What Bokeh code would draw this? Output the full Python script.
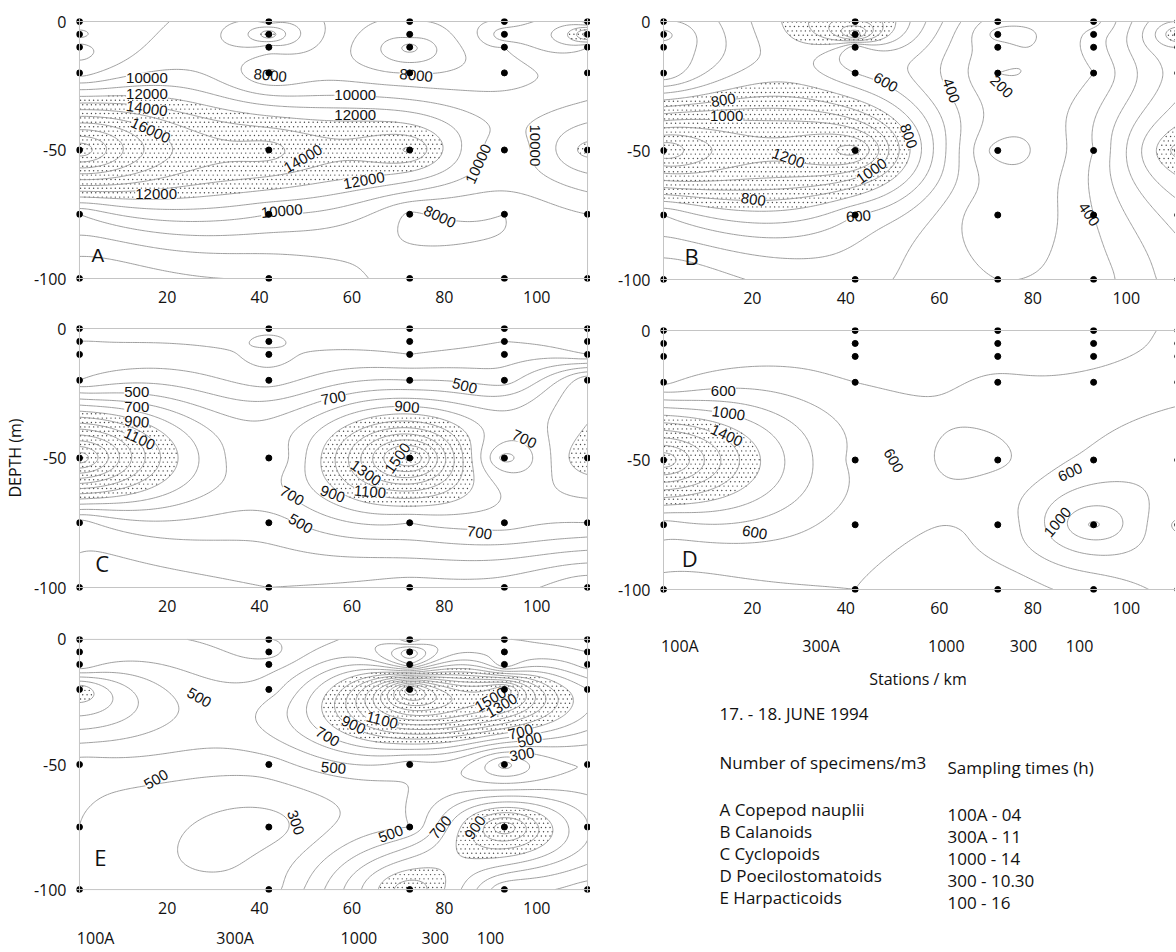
import numpy as np
from bokeh.plotting import figure
from bokeh.layouts import row, column
from bokeh.models import Range1d, FixedTicker, Span, Label, LinearAxis
from bokeh.core.properties import value
from bokeh.embed import file_html
from bokeh.resources import INLINE

# ---------------- data ----------------
STATIONS_KM = [1, 42, 72.5, 93, 111]
DEPTHS_M = [0, -5, -10, -20, -50, -75, -100]
STATION_NAMES = ["100A", "300A", "1000", "300", "100"]
STATION_NAME_KM = [4.5, 34.7, 61.5, 78, 90]
X_TICKS = [20, 40, 60, 80, 100]
Y_TICKS = [0, -50, -100]
Y_TICK_TEXT = ["0", "-50", "-100"]

# rows = depths (0,5,10,20,50,75,100 m), columns = stations
A_NAUPLII = [
    [8000, 9500, 8000, 9000, 9500],
    [9500, 13000, 7500, 11000, 15000],
    [7500, 9500, 5500, 9000, 10000],
    [8500, 7800, 8000, 8500, 9000],
    [20000, 14500, 14200, 9200, 12500],
    [9000, 10000, 7800, 8000, 9000],
    [6000, 7000, 8500, 8500, 8000],
]
B_CALANOIDS = [
    [500, 1000, 250, 250, 700],
    [350, 1300, 150, 350, 950],
    [450, 500, 250, 350, 700],
    [400, 600, 200, 300, 650],
    [1500, 1350, 150, 400, 950],
    [600, 600, 200, 400, 650],
    [300, 450, 300, 350, 550],
]
C_CYCLOPOIDS = [
    [300, 250, 200, 250, 250],
    [300, 350, 250, 300, 200],
    [350, 250, 300, 350, 300],
    [400, 350, 500, 450, 900],
    [1700, 600, 1650, 550, 1000],
    [450, 550, 700, 750, 700],
    [350, 400, 350, 350, 200],
]
D_POECILO = [
    [200, 250, 250, 250, 450],
    [250, 350, 200, 300, 450],
    [300, 300, 300, 350, 450],
    [350, 400, 450, 450, 550],
    [2400, 550, 350, 650, 750],
    [700, 500, 450, 1250, 550],
    [300, 400, 250, 450, 650],
]
E_HARPACT = [
    [400, 400, 700, 500, 450],
    [450, 350, 200, 600, 500],
    [400, 450, 400, 500, 550],
    [1000, 550, 2000, 1600, 800],
    [450, 450, 550, 250, 500],
    [400, 250, 500, 1300, 700],
    [350, 350, 1100, 500, 450],
]

A_LEVELS = list(range(5000, 21000, 1000)); A_STIPPLE = 12000
B_LEVELS = list(range(100, 1600, 100)); B_STIPPLE = 800
C_LEVELS = list(range(100, 1800, 100)); C_STIPPLE = 900
D_LEVELS = list(range(200, 2600, 200)); D_STIPPLE = 1200
E_LEVELS = list(range(100, 2200, 100)); E_STIPPLE = 900

# contour labels: (km, depth, text, angle in degrees)
A_LABELS = [(15.6, -21.8, "10000", 0), (15.6, -28.4, "12000", 0), (15.6, -33.9, "14000", -8),
            (16.4, -42.4, "16000", -25), (42.3, -21, "8000", -5), (73.9, -21, "8000", -5),
            (60.7, -28.6, "10000", 0), (60.7, -36.3, "12000", 0), (49.4, -53.4, "14000", 30),
            (62.6, -61.9, "12000", 10), (17.6, -67, "12000", 0), (44.8, -73.8, "10000", 5),
            (79.0, -76, "8000", -25), (87.4, -55.4, "10000", 65), (99.6, -48.2, "10000", -90)]
B_LABELS = [(48.5, -23.6, "600", -30), (62.5, -26.8, "400", -70), (73.3, -25.3, "200", -45),
            (13.8, -30.5, "800", 10), (14.5, -36.6, "1000", 0), (53.4, -44.4, "800", -70),
            (27.7, -53, "1200", -20), (45.5, -58, "1000", 35), (20.2, -69, "800", -8),
            (42.7, -75.5, "600", 5), (92.0, -74.8, "400", -55)]
C_LABELS = [(13.4, -24.4, "500", 0), (13.4, -30.3, "700", 0), (13.4, -36, "900", -5),
            (14.0, -42.7, "1100", -25), (56.0, -26.9, "700", 10), (71.9, -30.3, "900", -5),
            (84.4, -22.2, "500", -15), (97.3, -42.7, "700", -25), (69.9, -50.1, "1500", 55),
            (63.0, -55.8, "1300", -35), (63.9, -63.1, "1100", -5), (55.8, -63.9, "900", -20),
            (47.0, -64.6, "700", -30), (48.9, -75.4, "500", -30), (87.6, -78.9, "700", -8)]
D_LABELS = [(13.8, -23.4, "600", 0), (14.9, -32, "1000", -8), (14.5, -40.5, "1400", -25),
            (50.2, -50.2, "600", -60), (88.0, -54.8, "600", 25), (20.5, -78, "600", -10),
            (85.3, -74, "1000", 50)]
E_LABELS = [(26.9, -23.3, "500", -30), (17.6, -56, "500", 30), (47.8, -73.2, "300", -70),
            (56.0, -51.4, "500", -5), (54.7, -38.9, "700", -30), (60.3, -34.2, "900", -25),
            (66.5, -32.3, "1100", -15), (90.0, -24.1, "1500", 30), (92.4, -26.5, "1300", 30),
            (96.5, -37, "700", 15), (98.5, -40.2, "500", 15), (96.8, -46, "300", 10),
            (68.4, -77.8, "500", 20), (79.2, -75.2, "700", 50), (86.7, -75.2, "900", 55)]

LEGEND_SPECIES = ["A Copepod nauplii", "B Calanoids", "C Cyclopoids",
                  "D Poecilostomatoids", "E Harpacticoids"]
SAMPLING_TIMES = ["100A - 04", "300A - 11", "1000 - 14", "300   - 10.30", "100   - 16"]

# ---------------- helpers ----------------
PX_PER_KM = 4.675
PAD_PX = 3
XPAD = PAD_PX / PX_PER_KM
GX = np.linspace(1, 111, 221)
GY = np.linspace(-100, 0, 201)
FONT = "Open Sans"
INK = "#111111"


def rbf(vals):
    sx, sy = np.meshgrid(np.array(STATIONS_KM, float), np.array(DEPTHS_M, float))
    px, py = sx.ravel(), sy.ravel()
    z = np.array(vals, float).ravel()
    n = len(z)
    r = np.hypot(px[:, None] - px[None, :], py[:, None] - py[None, :])
    M = np.zeros((n + 1, n + 1))
    M[:n, :n] = r
    M[:n, n] = 1
    M[n, :n] = 1
    sol = np.linalg.solve(M, np.concatenate([z, [0.0]]))
    w, c = sol[:n], sol[n]

    def ev(qx, qy):
        qx = np.asarray(qx, float)
        qy = np.asarray(qy, float)
        R = np.hypot(qx[..., None] - px, qy[..., None] - py)
        return R @ w + c
    return ev


def stipple_points(ev, thr, px_per_m):
    sp = 4.4
    dx = sp / PX_PER_KM
    dy = sp / px_per_m
    xs_all, ys_all = [], []
    for i, yv in enumerate(np.arange(-100 + dy / 2, 0, dy)):
        xs = np.arange(1 + dx / 4 + (i % 2) * dx / 2, 111, dx)
        xs_all.append(xs)
        ys_all.append(np.full_like(xs, yv))
    qx = np.concatenate(xs_all)
    qy = np.concatenate(ys_all)
    keep = ev(qx, qy) >= thr
    return qx[keep], qy[keep]


def style_axis(ax, ticks, size="16px"):
    ax.ticker = FixedTicker(ticks=ticks)
    ax.axis_line_color = None
    ax.major_tick_line_color = None
    ax.minor_tick_line_color = None
    ax.major_label_text_font = FONT
    ax.major_label_text_font_size = size
    ax.major_label_text_color = INK


def panel(vals, levels, stip, labels, letter, letter_xy, letter_font, letter_size,
          width, height, bl, bt, bb, frame_h, right_side=False):
    ypad = PAD_PX * 100.0 / (frame_h - 2 * PAD_PX)
    px_per_m = (frame_h - 2 * PAD_PX) / 100.0
    if right_side:
        frame_w = width - bl
        x_end = 1 - XPAD + frame_w / PX_PER_KM
    else:
        x_end = 111 + XPAD
    p = figure(width=width, height=height, x_range=Range1d(1 - XPAD, x_end),
               y_range=Range1d(-100 - ypad, ypad), output_backend="svg",
               toolbar_location=None, min_border_left=bl, min_border_right=0,
               min_border_top=bt, min_border_bottom=bb)
    p.xgrid.visible = False
    p.ygrid.visible = False
    p.outline_line_color = None
    p.background_fill_color = "white"
    p.border_fill_color = "white"
    style_axis(p.xaxis[0], X_TICKS)
    style_axis(p.yaxis[0], Y_TICKS)
    p.yaxis[0].major_label_overrides = dict(zip(Y_TICKS, Y_TICK_TEXT))
    p.xaxis[0].major_label_standoff = 3
    p.yaxis[0].major_label_standoff = 4

    ev = rbf(vals)
    XX, YY = np.meshgrid(GX, GY)
    Z = ev(XX, YY)

    sx_, sy_ = stipple_points(ev, stip, px_per_m)
    p.scatter(sx_, sy_, size=1.4, color="#444444", line_width=0)

    p.contour(GX, GY, Z, levels, line_color="#959595", line_width=0.9)

    lx, ly, lt, la = zip(*labels)
    p.text(x=list(lx), y=list(ly), text=list(lt), angle=list(la), angle_units="deg",
           text_font=value("Liberation Sans"), text_font_size="15px",
           text_color=INK, text_align="center", text_baseline="middle",
           background_fill_color="white")

    for loc in (0, -100):
        p.add_layout(Span(location=loc, dimension="width", line_color="#c4c4c4", line_width=1))
    edges = (1,) if right_side else (1, 111)
    for loc in edges:
        p.add_layout(Span(location=loc, dimension="height", line_color="#c4c4c4", line_width=1))

    sx, sy = np.meshgrid(STATIONS_KM, DEPTHS_M)
    p.scatter(sx.ravel(), sy.ravel(), size=6, color="black")

    p.add_layout(Label(x=letter_xy[0], y=letter_xy[1], text=letter, text_font=letter_font,
                       text_font_size=letter_size, text_color=INK,
                       text_align="center", text_baseline="middle"))
    return p


def station_axis(p, standoff, label=None, label_standoff=0):
    ax = LinearAxis(major_label_overrides={k: v for k, v in zip(STATION_NAME_KM, STATION_NAMES)})
    style_axis(ax, STATION_NAME_KM, size="16px")
    ax.major_label_standoff = standoff
    if label:
        ax.axis_label = label
        ax.axis_label_text_font = FONT
        ax.axis_label_text_font_size = "16px"
        ax.axis_label_text_font_style = "normal"
        ax.axis_label_text_color = INK
        ax.axis_label_standoff = label_standoff
    p.add_layout(ax, "below")


LEFT_W, RIGHT_W = 590, 585

pA = panel(A_NAUPLII, A_LEVELS, A_STIPPLE, A_LABELS, "A", (5.0, -91), "Liberation Sans", "19px",
           LEFT_W, 315, 70, 18, 34, 263)
pC = panel(C_CYCLOPOIDS, C_LEVELS, C_STIPPLE, C_LABELS, "C", (5.9, -90.7), FONT, "22px",
           LEFT_W, 309, 70, 10, 34, 265)
pE = panel(E_HARPACT, E_LEVELS, E_STIPPLE, E_LABELS, "E", (5.5, -87), FONT, "22px",
           LEFT_W, 327, 70, 12, 52, 263)
pB = panel(B_CALANOIDS, B_LEVELS, B_STIPPLE, B_LABELS, "B", (7.0, -90.7), FONT, "22px",
           RIGHT_W, 317, 70, 18, 35, 264, right_side=True)
pD = panel(D_POECILO, D_LEVELS, D_STIPPLE, D_LABELS, "D", (6.6, -88), FONT, "22px",
           RIGHT_W, 383, 70, 10, 108, 265, right_side=True)

pC.yaxis[0].axis_label = "DEPTH (m)"
pC.yaxis[0].axis_label_text_font = FONT
pC.yaxis[0].axis_label_text_font_size = "16px"
pC.yaxis[0].axis_label_text_font_style = "normal"
pC.yaxis[0].axis_label_text_color = INK
pC.yaxis[0].axis_label_standoff = 5

station_axis(pE, 4)
station_axis(pD, 12, "Stations / km", 8)

# text block
T_H = 251
pT = figure(width=RIGHT_W, height=T_H, x_range=Range1d(0, RIGHT_W), y_range=Range1d(T_H, 0),
            output_backend="svg", toolbar_location=None, x_axis_location=None,
            y_axis_location=None, min_border=0)
pT.xgrid.visible = False
pT.ygrid.visible = False
pT.outline_line_color = None
tx = [67, 67, 326] + [67] * 5 + [326] * 5
ty = [13, 62, 67, 109, 131, 153, 175, 197, 114, 136, 158, 180, 202]
tt = ["17. - 18. JUNE  1994", "Number of specimens/m3", "Sampling times (h)"] + \
     LEGEND_SPECIES + SAMPLING_TIMES
pT.text(x=tx, y=ty, text=tt, text_font=value(FONT), text_font_size="17px",
        text_color=INK, text_align="left", text_baseline="middle")

layout = row(column(pA, pC, pE), column(pB, pD, pT))

open("out.html", "w").write(file_html(layout, INLINE))
